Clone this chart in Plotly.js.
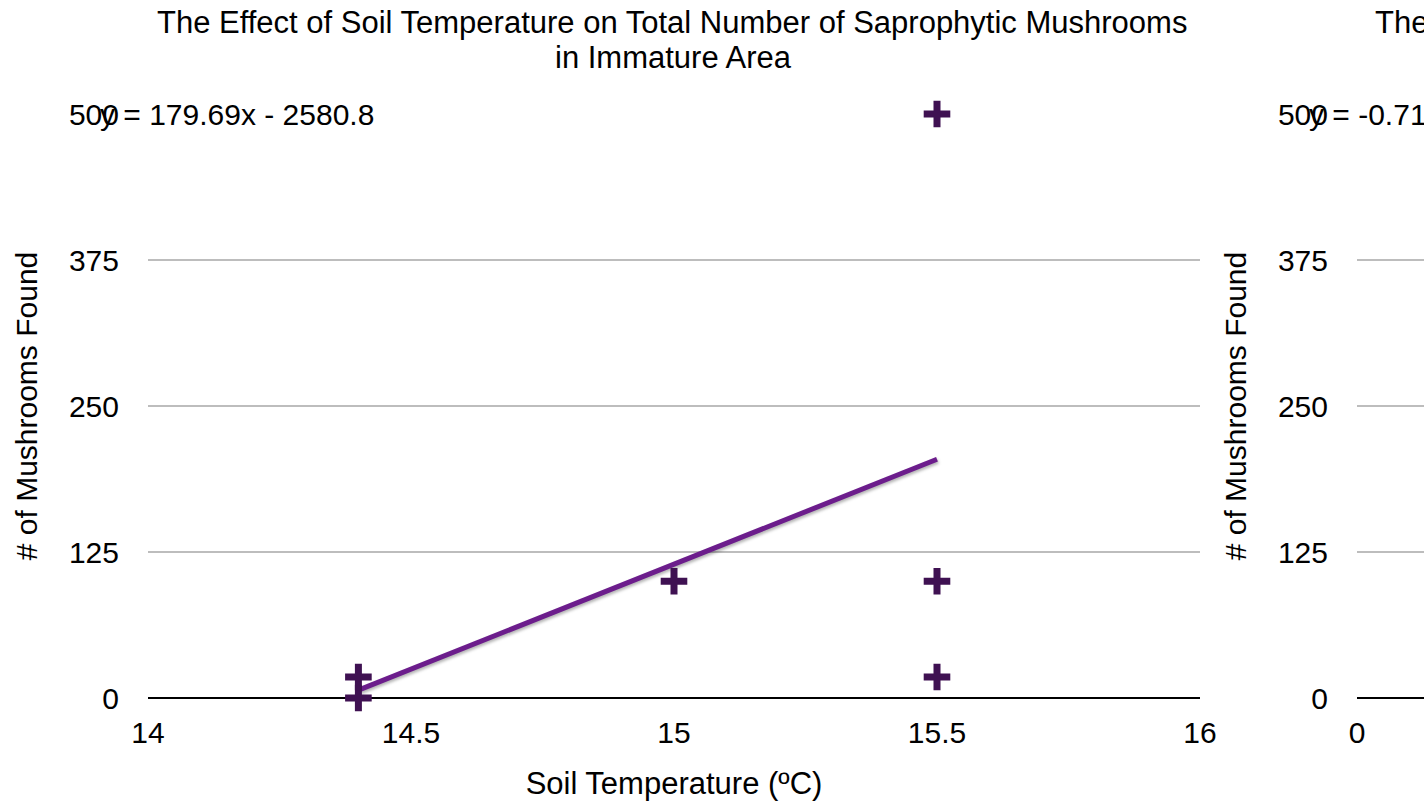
<!DOCTYPE html>
<html>
<head>
<meta charset="utf-8">
<script src="https://cdn.plot.ly/plotly-3.0.1.min.js"></script>
<style>
  html, body { margin: 0; padding: 0; background: #ffffff; overflow: hidden; }
  #chart { width: 1424px; height: 803px; }
</style>
</head>
<body>
<div id="chart"></div>
<script>
// Survey data: soil temperature (ºC) vs number of saprophytic mushrooms found
const soilTemperature = [14.4, 14.4, 15.0, 15.5, 15.5, 15.5];
const mushroomsFound  = [0, 18, 100, 100, 18, 500];

// Linear trendline (least squares) as stated on the chart
const trendSlope = 179.69;
const trendIntercept = -2580.8;
const trendX = [14.4, 15.5];
const trendY = trendX.map(x => trendSlope * x + trendIntercept);

// Axis ticks
const xTickVals = [14, 14.5, 15, 15.5, 16];
const yTickVals = [0, 125, 250, 375, 500];
const xRange = [14, 16];
const yRange = [0, 500];

// Neighbouring chart, only its left edge is on screen
const chart2XRange = [0, 0.5];
const chart2XTicks = [0];
const chart2Title = "The";
const chart2Equation = "y = -0.71";

const titleLines = [
  "The Effect of Soil Temperature on Total Number of Saprophytic Mushrooms",
  "in Immature Area"
];
const xTitleText = "Soil Temperature (ºC)";
const yTitleText = "# of Mushrooms Found";

const W = 1424, H = 803;
const FONT = "Liberation Sans, Arial, Helvetica, sans-serif";
const px = v => v / W;
const py = v => 1 - v / H;

const markerColor = "#3f1152";
const lineColor = "#6c1d8c";
const textFont = { family: FONT, size: 30, color: "#000" };

const traces = [
  {
    x: trendX, y: trendY, type: "scatter", mode: "lines",
    line: { color: lineColor, width: 5 },
    hoverinfo: "skip", cliponaxis: false, xaxis: "x", yaxis: "y"
  },
  {
    x: soilTemperature, y: mushroomsFound, type: "scatter", mode: "markers",
    marker: { symbol: "cross-thin", size: 19, color: markerColor,
              line: { color: markerColor, width: 7 } },
    cliponaxis: false, xaxis: "x", yaxis: "y"
  },
  {
    x: [], y: [], type: "scatter", mode: "markers", xaxis: "x2", yaxis: "y2"
  }
];

const yAxisCommon = {
  range: yRange, tickvals: yTickVals, ticks: "", showline: false,
  showgrid: true, gridcolor: "#bdbdbd", gridwidth: 2,
  zeroline: true, zerolinecolor: "#000000", zerolinewidth: 2,
  tickfont: textFont, ticklabelstandoff: 28, fixedrange: true,
  title: { text: yTitleText, font: textFont, standoff: 22 }
};

const layout = {
  width: W, height: H,
  margin: { l: 0, r: 0, t: 0, b: 0 },
  paper_bgcolor: "#ffffff", plot_bgcolor: "#ffffff",
  showlegend: false,
  font: textFont,
  xaxis: {
    domain: [px(148), px(1200)], range: xRange, tickvals: xTickVals,
    ticks: "", showgrid: false, showline: false, zeroline: false,
    tickfont: textFont, ticklabelstandoff: 14, fixedrange: true,
    title: { text: xTitleText, font: Object.assign({}, textFont, { size: 31 }), standoff: 24 }
  },
  yaxis: Object.assign({}, yAxisCommon, { domain: [py(698), py(114)], anchor: "x" }),
  xaxis2: {
    domain: [px(1357), 1], range: chart2XRange, tickvals: chart2XTicks,
    ticks: "", showgrid: false, showline: false, zeroline: false,
    tickfont: textFont, ticklabelstandoff: 14, fixedrange: true, anchor: "y2"
  },
  yaxis2: Object.assign({}, yAxisCommon, { domain: [py(698), py(114)], anchor: "x2" }),
  annotations: [
    {
      text: titleLines[0], xref: "paper", x: px(672), xanchor: "center",
      yref: "paper", y: py(22.5), yanchor: "middle",
      showarrow: false, font: Object.assign({}, textFont, { size: 31 })
    },
    {
      text: titleLines[1], xref: "paper", x: px(673), xanchor: "center",
      yref: "paper", y: py(58), yanchor: "middle",
      showarrow: false, font: Object.assign({}, textFont, { size: 31 })
    },
    {
      text: `y = ${trendSlope}x - ${Math.abs(trendIntercept)}`,
      xref: "x domain", x: 0, xanchor: "left", xshift: -50,
      yref: "y", y: 500, yanchor: "middle",
      showarrow: false, font: textFont
    },
    {
      text: chart2Equation,
      xref: "x2 domain", x: 0, xanchor: "left", xshift: -50,
      yref: "y2", y: 500, yanchor: "middle",
      showarrow: false, font: textFont
    },
    {
      text: chart2Title,
      xref: "x2 domain", x: 0, xanchor: "left", xshift: 16,
      yref: "paper", y: py(22.5), yanchor: "middle",
      showarrow: false, font: Object.assign({}, textFont, { size: 31 })
    }
  ]
};

Plotly.newPlot("chart", traces, layout, { staticPlot: true, displayModeBar: false }).then(() => {
  // soft drop shadow under the trendline
  const line = document.querySelector(".scatterlayer .trace path.js-line");
  if (line) line.style.filter = "drop-shadow(1px 2px 1.5px rgba(0,0,0,0.3))";
});
</script>
</body>
</html>
